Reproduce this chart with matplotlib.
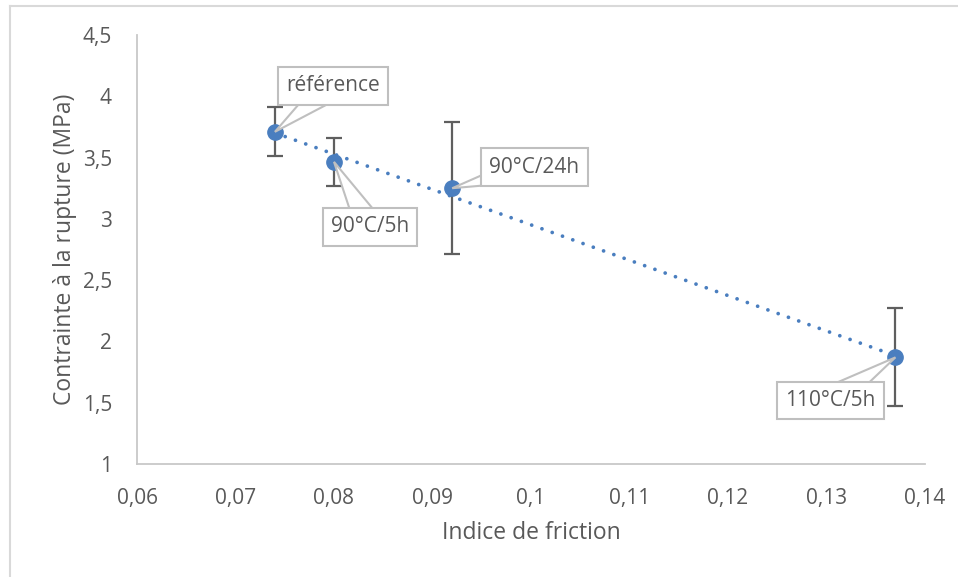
import matplotlib.pyplot as plt
import matplotlib.ticker as mticker
from matplotlib.lines import Line2D
from matplotlib.patches import Polygon
from matplotlib.transforms import IdentityTransform
import numpy as np

plt.rcParams['font.family'] = ['Open Sans', 'DejaVu Sans']

# data
friction = [0.074, 0.080, 0.092, 0.137]
contrainte = [3.71, 3.465, 3.25, 1.87]
erreur = [0.2, 0.195, 0.54, 0.40]
labels = ['référence', '90°C/5h', '90°C/24h', '110°C/5h']
label_offsets = [(58, 46), (36, -65), (82, 21), (-65, -43)]  # pixels

blue = '#4a7ebf'
grey_txt = '#595959'
grey_line = '#bfbfbf'

fig = plt.figure(figsize=(9.58, 5.77), dpi=100)
ax = fig.add_axes([137 / 958, 113 / 577, 788 / 958, 429 / 577])
ax.set_xlim(0.06, 0.14)
ax.set_ylim(1, 4.5)

# linear trendline
coef = np.polyfit(friction, contrainte, 1)
xs = np.array([min(friction), max(friction)])
ax.plot(xs, np.polyval(coef, xs), color=blue, lw=2.7,
        linestyle=(0, (0.01, 2.9)), dash_capstyle='round', zorder=2)

ax.errorbar(friction, contrainte, yerr=erreur, fmt='none',
            ecolor='#5f5f5f', elinewidth=1.6, capsize=5.5, capthick=1.6,
            zorder=3)
ax.plot(friction, contrainte, 'o', color=blue, ms=11, zorder=4)

# callout labels
for x, y, lab, off in zip(friction, contrainte, labels, label_offsets):
    px, py = ax.transData.transform((x, y))
    cx, cy = px + off[0], py + off[1]
    d = np.hypot(off[0], off[1])
    nx, ny = -off[1] / d, off[0] / d
    w = 14
    tri = Polygon([(px, py), (cx + nx * w, cy + ny * w), (cx - nx * w, cy - ny * w)],
                  closed=True, fc='white', ec=grey_line, lw=1.5,
                  transform=IdentityTransform(), zorder=5, clip_on=False)
    ax.add_artist(tri)
    ax.annotate(lab, xy=(x, y), xytext=off, textcoords='offset pixels',
                ha='center', va='center', fontsize=15, color=grey_txt,
                bbox=dict(boxstyle='square,pad=0.4', fc='white',
                          ec=grey_line, lw=1.5),
                zorder=6)

ax.xaxis.set_major_locator(mticker.MultipleLocator(0.01))
ax.yaxis.set_major_locator(mticker.MultipleLocator(0.5))
fmt = mticker.FuncFormatter(lambda v, p: ('%g' % round(v, 4)).replace('.', ','))
ax.xaxis.set_major_formatter(fmt)
ax.yaxis.set_major_formatter(fmt)
ax.tick_params(length=0, labelsize=15, colors=grey_txt)
ax.tick_params(axis='y', pad=18)
ax.tick_params(axis='x', pad=17)

for s in ['top', 'right']:
    ax.spines[s].set_visible(False)
for s in ['left', 'bottom']:
    ax.spines[s].set_color('#c8c8c8')
    ax.spines[s].set_linewidth(1.3)

ax.set_xlabel('Indice de friction', fontsize=16.5, color=grey_txt, labelpad=9)
ax.set_ylabel('Contrainte à la rupture (MPa)', fontsize=16.5, color=grey_txt,
              labelpad=4)

# chart frame
fig.add_artist(Line2D([10 / 958, 10 / 958], [0, 1 - 6 / 577],
                      transform=fig.transFigure, color='#d9d9d9', lw=1.5))
fig.add_artist(Line2D([10 / 958, 1], [1 - 6 / 577, 1 - 6 / 577],
                      transform=fig.transFigure, color='#d9d9d9', lw=1.5))

fig.savefig('out.png', dpi=100)
